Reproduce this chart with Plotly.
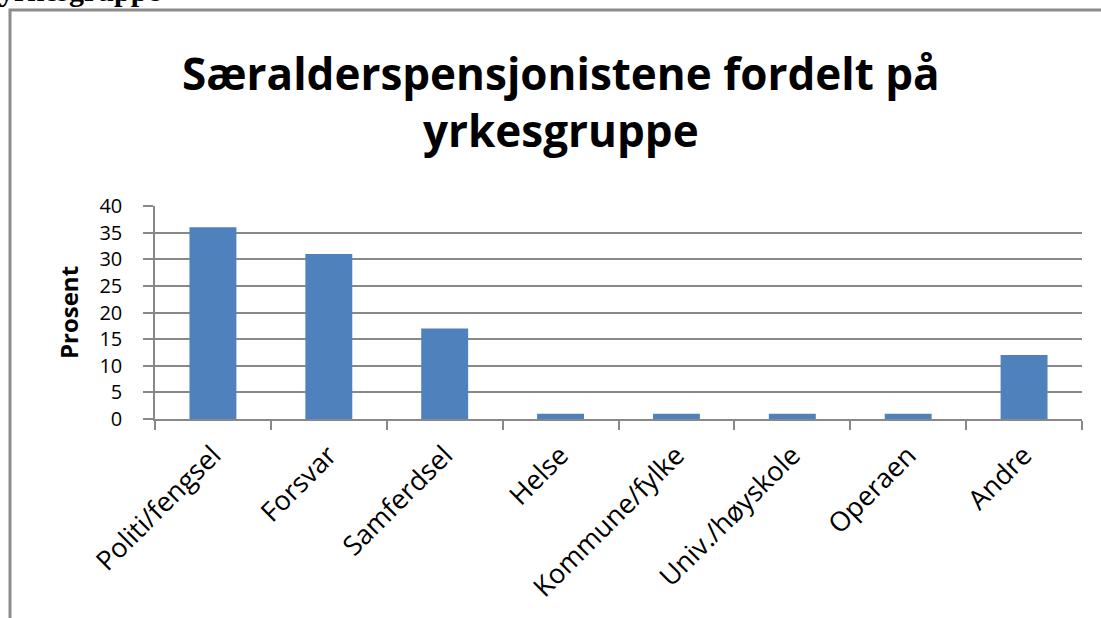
import plotly.graph_objects as go

categories = ["Politi/fengsel", "Forsvar", "Samferdsel", "Helse", "Kommune/fylke",
              "Univ./høyskole", "Operaen", "Andre"]
values = [36, 31, 17, 1, 1, 1, 1, 12]
y_ticks = [0, 5, 10, 15, 20, 25, 30, 35, 40]

W, H = 1101, 618
L, R, T, B = 155, 19, 206, 199
pw, ph = W - L - R, H - T - B

def px(x):
    return (x - L) / pw

def py(y):
    return (H - B - y) / ph

fig = go.Figure(go.Bar(x=categories, y=values, marker=dict(color="#4F81BD", line=dict(width=0)),
                       width=0.405))

FONT = "Open Sans, sans-serif"
GRID = "#888888"

fig.update_layout(
    width=W, height=H,
    margin=dict(l=L, r=R, t=T, b=B),
    paper_bgcolor="white", plot_bgcolor="white",
    showlegend=False,
    font=dict(family=FONT, color="black"),
    xaxis=dict(
        tickangle=-45, tickfont=dict(size=27, family=FONT, color="black"),
        ticks="outside", tickson="boundaries", ticklen=9, tickcolor=GRID, tickwidth=1.5,
        showline=True, linecolor=GRID, linewidth=1.5, showgrid=False,
        ticklabelstandoff=8,
    ),
    yaxis=dict(
        range=[0, 40], tickvals=y_ticks, tickfont=dict(size=20, family=FONT, color="black"),
        ticks="outside", ticklen=10, tickcolor=GRID, tickwidth=1.5,
        showline=True, linecolor=GRID, linewidth=1.5,
        showgrid=True, gridcolor=GRID, gridwidth=1.5, zeroline=False,
        ticklabelstandoff=17,
        title=dict(text="<b>Prosent</b>", font=dict(size=24, family=FONT, color="black"), standoff=14),
    ),
    shapes=[
        dict(type="rect", xref="paper", yref="paper",
             x0=px(10), x1=px(1110), y0=py(630), y1=py(10),
             line=dict(color="#8c8c8c", width=3), fillcolor="rgba(0,0,0,0)", layer="below"),
    ],
    annotations=[
        dict(text="<b>Særalderspensjonistene fordelt på<br>yrkesgruppe</b>", xref="paper", yref="paper",
             x=px(561), y=py(101), xanchor="center", yanchor="middle", showarrow=False,
             font=dict(size=44, family=FONT, color="black"), align="center"),
        dict(text="<b>yrkesgruppe</b>", xref="paper", yref="paper",
             x=px(-3), y=py(9), xanchor="left", yanchor="bottom", showarrow=False,
             font=dict(size=30, family="Liberation Serif, serif", color="black")),
    ],
)

fig.write_html("out.html", config={"displayModeBar": False},
               post_script="document.body.style.margin='0';")
